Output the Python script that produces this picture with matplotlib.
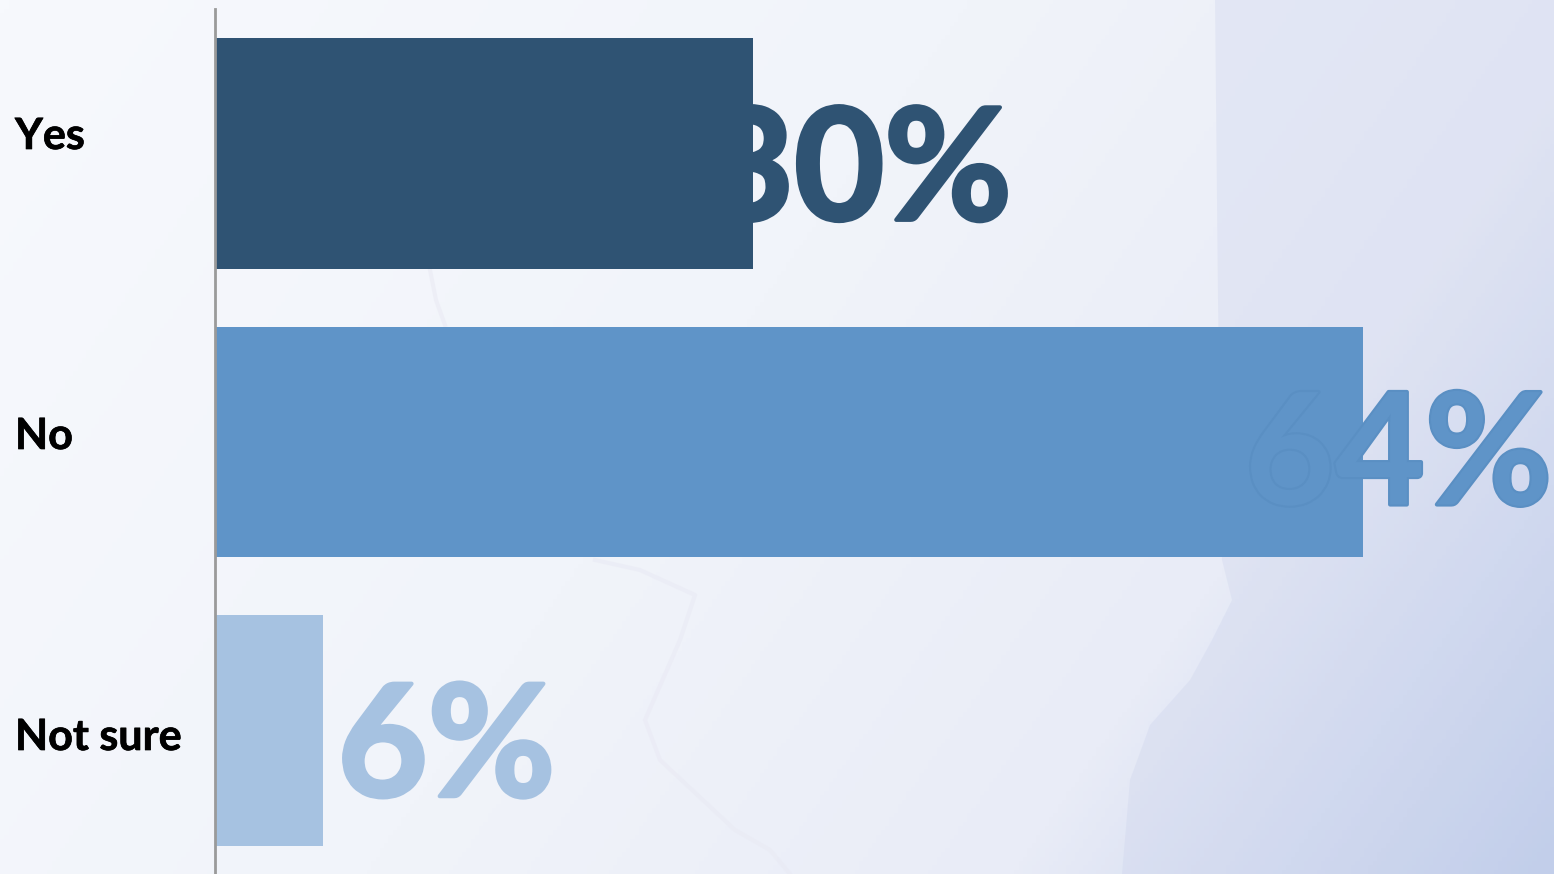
import numpy as np
import matplotlib
matplotlib.use('Agg')
from matplotlib import pyplot as plt
from matplotlib import patheffects as pe
from matplotlib.colors import LinearSegmentedColormap
from matplotlib.patches import Polygon

categorias = ['Yes', 'No', 'Not sure']
valores = [30, 64, 6]
etiquetas = ['30%', '64%', '6%']
colores = ['#2F5373', '#5F94C8', '#A6C2E1']
bordes = ['#2F5373', '#5A8FC3', '#A6C2E1']

# desplazamiento de cada etiqueta respecto al final de su barra (px)
dx_etiqueta = [-49, -118, 15]
dy_etiqueta = [-22, -18, -21]
y_categoria = [136, 436, 737]

plt.rcParams['font.family'] = ['Lato', 'DejaVu Sans']

W, H = 1554, 874
fig = plt.figure(figsize=(W / 100, H / 100), dpi=100)

# fondo degradado con la silueta del mapa
bg = fig.add_axes([0, 0, 1, 1], zorder=0)
bg.axis('off')
yy, xx = np.mgrid[0:1:200j, 0:1:360j]
t = np.clip(xx * 0.72 + yy * 0.28, 0, 1)
cmap = LinearSegmentedColormap.from_list(
    'fondo', [(0, '#F7F9FD'), (0.45, '#F1F4FA'), (0.75, '#E9ECF7'), (1, '#C0CEEB')])
bg.imshow(t, cmap=cmap, aspect='auto', extent=(0, W, H, 0), vmin=0, vmax=1)
bg.add_patch(Polygon([(1215, 0), (1218, 300), (1222, 560), (1232, 600), (1212, 640),
                      (1190, 680), (1150, 725), (1130, 780), (1122, 874), (W, H), (W, 0)],
                     closed=True, fc='#C8CFEA', ec='none', alpha=0.28))
bg.plot([430, 436, 445], [270, 300, 325], color='#EBECF5', lw=3, alpha=0.7)
bg.plot([595, 640, 695, 680, 645, 660, 735, 770, 790],
        [560, 570, 595, 640, 720, 760, 830, 850, 874], color='#E9EAF4', lw=3, alpha=0.6)
bg.set_xlim(0, W)
bg.set_ylim(H, 0)

# ejes: 17.93 px por cada 1%
ax = fig.add_axes([215 / W, -1 / H, 1 - 215 / W, 866 / H], zorder=1)
ax.patch.set_alpha(0)
pos = range(len(categorias))
ax.barh(pos, valores, height=0.8, color=colores)
ax.set_xlim(0, (W - 215) / 17.93)
ax.set_ylim(2.5, -0.5)
ax.set_xticks([])
ax.set_yticks([])
for s in ['top', 'right', 'bottom']:
    ax.spines[s].set_visible(False)
ax.spines['left'].set_color('#9A9A9A')
ax.spines['left'].set_linewidth(2)

# etiquetas de categoria
for nombre, y in zip(categorias, y_categoria):
    fig.text(15 / W, 1 - y / H, nombre, fontsize=31, fontweight='bold',
             color='black', va='center', ha='left',
             path_effects=[pe.withStroke(linewidth=0.5, foreground='black')])

# etiquetas de valor
for i, (v, txt, c) in enumerate(zip(valores, etiquetas, colores)):
    ax.annotate(txt, (v, i), xytext=(dx_etiqueta[i], dy_etiqueta[i]),
                textcoords='offset pixels', fontsize=112, fontweight='bold',
                color=c, va='center', ha='left', annotation_clip=False,
                path_effects=[pe.withStroke(linewidth=3, foreground=bordes[i])])

fig.savefig('out.png', dpi=100)
